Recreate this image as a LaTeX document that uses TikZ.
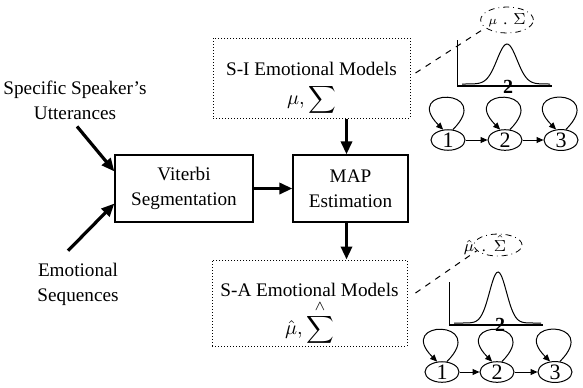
\documentclass[tikz,border=0pt]{standalone}
\usepackage{amsmath,amssymb}
\usepackage{fontspec}
\setmainfont{Liberation Serif}
\usetikzlibrary{arrows.meta,shapes,positioning,calc}

\tikzset{
  solidbox/.style={draw, line width=0.6pt, minimum height=33.5pt, inner sep=0pt, align=center},
  modelbox/.style={draw, densely dotted, line width=0.5pt, inner sep=0pt},
  flow/.style={line width=1.6pt, -{Triangle[length=6.5pt,width=5.5pt]}},
  hmmstate/.style={ellipse, draw, line width=0.5pt, minimum width=17pt, minimum height=9.5pt,
    inner sep=0pt, font=\fontsize{11}{11}\selectfont},
  trans/.style={line width=0.5pt, -{Triangle[length=3.5pt,width=3pt]}},
  param/.style={ellipse, draw, dashdotted, line width=0.4pt, inner sep=0pt, font=\fontsize{8}{8}\selectfont},
  zoomline/.style={line width=0.5pt, dash pattern=on 3pt off 3pt},
}

\begin{document}
\begin{tikzpicture}[x=0.5pt,y=-0.5pt,font=\fontsize{9.6}{12.5}\selectfont]
  \useasboundingbox (0,0) rectangle (583,387);
  \node[solidbox, minimum width=69pt] (vit) at (184,188.5) {Viterbi\\Segmentation};
  \node[solidbox, minimum width=57.5pt] (map) at (350.5,188.5) {MAP\\Estimation};
  \node[modelbox, minimum width=98.5pt, minimum height=40pt] (si) at (311.5,78) {};
  \node[align=center] (si-txt) at (311.5,89) {S-I Emotional Models\\[2pt]$\mu,\displaystyle\sum$};
  \node[modelbox, minimum width=97.5pt, minimum height=43pt] (sa) at (309.5,303) {};
  \node[align=center] (sa-txt) at (309.5,314) {S-A Emotional Models\\[1pt]$\hat{\mu},\overset{\wedge}{\displaystyle\sum}$};
  \node[align=center] (utt) at (75,100) {Specific Speaker's\\Utterances};
  \node[align=center] (emo) at (78,284) {Emotional\\Sequences};

  \draw[flow] ([xshift=1pt]utt.south) -- ($(vit.north west)!0.25!(vit.south west)$);
  \draw[flow] ([xshift=-5pt,yshift=2.5pt]emo.north) -- ($(vit.north west)!0.72!(vit.south west)$);
  \draw[flow] (vit) -- (map);
  \draw[flow] ($(map.north |- si.south)+(-4,0)$) -- ($(map.north)+(-4,0)$);
  \draw[flow] ($(map.south)+(-4,0)$) -- ($(map.south |- sa.north)+(-4,0)$);

  \begin{scope}[shift={(457,86)}]
    \draw[line width=0.5pt] (0,-46) -- (0,0);
    \draw[line width=0.7pt] (0,0) -- (95,0);
    \draw[line width=0.5pt] plot[domain=5:93, samples=60, smooth] (\x, {-2-40*exp(-((\x-50)^2)/200)});
    \node[font=\fontsize{10}{10}\selectfont\bfseries] (gu) at (51,1) {2};
    \node[param, minimum width=25pt, minimum height=13pt] (pu) at (50,-66) {$\scriptstyle\mu$\hspace{3pt}.\hspace{3pt}$\Sigma$};
    \foreach \i/\x in {1/-9,2/48,3/104} {
      \node[hmmstate] (u\i) at (\x,54) {\i};
      \draw[trans] (u\i.65) .. controls +(45:30pt) and +(135:30pt) .. (u\i.115);
    }
    \draw[trans] (u1) -- (u2);
    \draw[trans] (u2) -- (u3);
  \end{scope}
  \draw[zoomline] ([shift={(2.5pt,2.5pt)}]si.east) -- (pu.200);

  \begin{scope}[shift={(449,325)}]
    \draw[line width=0.5pt] (0,-43) -- (0,0);
    \draw[line width=0.7pt] (0,0) -- (94,0);
    \draw[line width=0.5pt] plot[domain=5:92, samples=60, smooth] (\x, {-2-51*exp(-((\x-49)^2)/144)});
    \node[font=\fontsize{10}{10}\selectfont\bfseries] (gl) at (51,0) {2};
    \node[param, minimum width=24pt, minimum height=11pt] (pl) at (49,-80) {};
    \node[font=\fontsize{8}{8}\selectfont] (pl-txt) at (36,-80) {$\hat{\mu}$\hspace{4pt}.\hspace{4pt}$\hat{\Sigma}$};
    \foreach \i/\x in {1/-7,2/48,3/106} {
      \node[hmmstate] (l\i) at (\x,47) {\i};
      \draw[trans] (l\i.65) .. controls +(45:30pt) and +(135:30pt) .. (l\i.115);
    }
    \draw[trans] (l1) -- (l2);
    \draw[trans] (l2) -- (l3);
  \end{scope}
  \draw[zoomline] ([shift={(4pt,5pt)}]sa.east) -- (pl.195);
\end{tikzpicture}
\end{document}
